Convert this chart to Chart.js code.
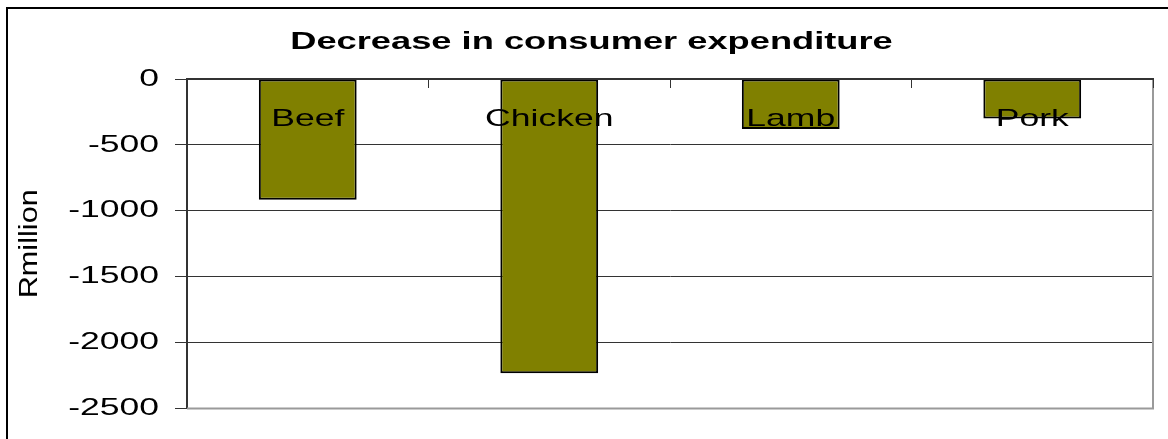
<!DOCTYPE html>
<html><head><meta charset="utf-8">
<script src="https://cdn.jsdelivr.net/npm/chart.js@4.4.1/dist/chart.umd.min.js"></script>
<style>
html,body{margin:0;padding:0;background:#fff;overflow:hidden}
#wrap{position:relative;width:1168px;height:439px}
#frame{position:absolute;left:6px;top:7px;width:1200px;height:500px;border:2px solid #000;box-sizing:border-box}
canvas{position:absolute;left:0;top:0}
</style></head><body>
<div id="wrap"><div id="frame"></div><canvas id="c" width="1168" height="439"></canvas></div>
<script>
const categories = ['Beef', 'Chicken', 'Lamb', 'Pork'];
const decrease = [-915, -2232, -380, -300];
const yTickValues = [0, -500, -1000, -1500, -2000, -2500];
const titleText = 'Decrease in consumer expenditure';
const yAxisTitle = 'Rmillion';

const FONT = '"Liberation Sans", Arial, sans-serif';
const canvas = document.getElementById('c');
const ctx = canvas.getContext('2d');

// the reference text is horizontally widened; widen glyphs along the baseline
const STRETCH = 1.48, STRETCH_ROT = 1.18;
function stretchOf(c) { const t = c.getTransform(); return Math.abs(t.b) > 0.01 ? STRETCH_ROT : STRETCH; }
const origFill = ctx.fillText.bind(ctx);
const origMeasure = ctx.measureText.bind(ctx);
ctx.fillText = function (text, x, y, maxW) {
  const s = stretchOf(ctx);
  ctx.save(); ctx.translate(x, y); ctx.scale(s, 1);
  if (maxW === undefined || maxW === null) origFill(text, 0, 0); else origFill(text, 0, 0, maxW / s);
  ctx.restore();
};
ctx.measureText = function (text) {
  const m = origMeasure(text);
  const s = STRETCH;
  return {
    width: m.width * s,
    actualBoundingBoxAscent: m.actualBoundingBoxAscent,
    actualBoundingBoxDescent: m.actualBoundingBoxDescent,
    actualBoundingBoxLeft: m.actualBoundingBoxLeft * s,
    actualBoundingBoxRight: m.actualBoundingBoxRight * s,
    fontBoundingBoxAscent: m.fontBoundingBoxAscent,
    fontBoundingBoxDescent: m.fontBoundingBoxDescent
  };
};

const plotBorder = {
  id: 'plotBorder',
  beforeDatasetsDraw(chart) {
    const a = chart.chartArea, c = chart.ctx;
    c.save();
    c.strokeStyle = '#9a9a9a'; c.lineWidth = 2;
    c.beginPath();
    c.moveTo(a.right, a.top); c.lineTo(a.right, a.bottom); c.lineTo(a.left, a.bottom);
    c.stroke();
    c.restore();
  }
};

new Chart(canvas, {
  type: 'bar',
  data: {
    labels: categories,
    datasets: [{
      data: decrease,
      backgroundColor: '#808000',
      borderColor: '#000',
      borderWidth: 2,
      borderSkipped: false,
      barPercentage: 0.405,
      categoryPercentage: 1
    }]
  },
  options: {
    responsive: false,
    devicePixelRatio: 1,
    animation: false,
    layout: { padding: { left: 30, right: 15, top: 10, bottom: 21 } },
    plugins: {
      legend: { display: false },
      tooltip: { enabled: false },
      title: {
        display: true, text: titleText, color: '#000',
        font: { family: FONT, size: 24.5, weight: 'bold' },
        padding: { top: 18, bottom: 21.6 }
      }
    },
    scales: {
      x: {
        type: 'category',
        position: { y: 0 },
        offset: true,
        grid: { display: true, drawOnChartArea: false, drawTicks: true, tickLength: 8, color: '#333', lineWidth: 1, offset: true, z: 1 },
        border: { display: true, color: '#333', width: 2, z: 1 },
        ticks: { color: '#000', font: { family: FONT, size: 24 }, padding: 18, maxRotation: 0, autoSkip: false, z: 1 }
      },
      y: {
        min: -2500, max: 0,
        afterBuildTicks: s => { s.ticks = [...yTickValues].sort((a, b) => a - b).map(v => ({ value: v })); },
        afterFit: s => { s.width = 157; },
        grid: { color: '#333', lineWidth: 1, tickLength: 12 },
        border: { color: '#333', width: 2 },
        ticks: { color: '#000', font: { family: FONT, size: 24 }, padding: 16, callback: v => String(v) },
        title: { display: true, text: yAxisTitle, color: '#000', font: { family: FONT, size: 26 }, padding: { top: -16, bottom: 0 } }
      }
    }
  },
  plugins: [plotBorder]
});
</script>
</body></html>
